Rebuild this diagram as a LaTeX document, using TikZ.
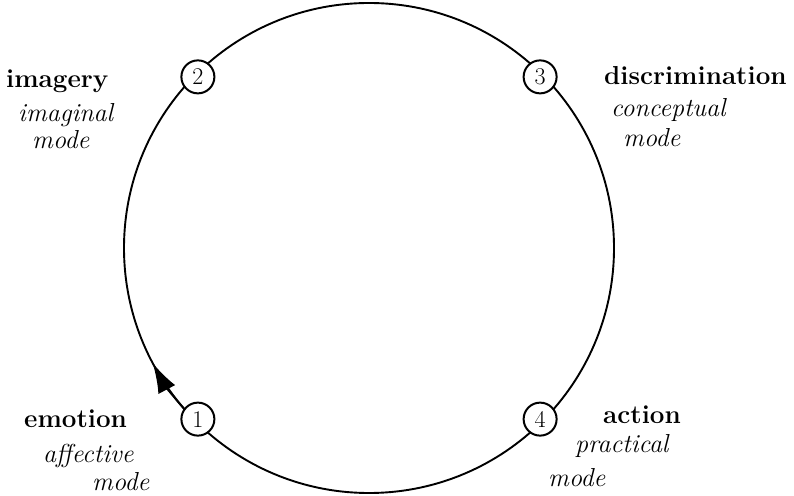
\documentclass[tikz,border=0pt]{standalone}
\usetikzlibrary{arrows.meta}

\begin{document}
\begin{tikzpicture}[x=1pt, y=1pt,
  ring/.style={line width=1.9pt},
  stage/.style={circle, draw, line width=2pt, fill=white, minimum size=33pt, inner sep=0pt, font=\fontsize{24}{26}\selectfont},
  mainword/.style={anchor=base west, inner sep=0pt, font=\fontsize{26}{30}\selectfont\bfseries},
  modeword/.style={anchor=base west, inner sep=0pt, font=\fontsize{26}{30}\selectfont\itshape}]

  \useasboundingbox (0,0) rectangle (794,495);

  % the cycle
  \coordinate (C) at (369,247);
  \draw[ring] (C) circle (245);

  % arrow leaving stage 1 upwards
  \draw[ring, -{Latex[length=30pt, width=19pt]}] ([shift={(224:245)}]C) arc (224:208:245);

  % the four stages
  \node[stage] (s1) at ([shift={(225:242)}]C) {1};
  \node[stage] (s2) at ([shift={(135:242)}]C) {2};
  \node[stage] (s3) at ([shift={(45:242)}]C) {3};
  \node[stage] (s4) at ([shift={(-45:242)}]C) {4};

  % labels
  \node[mainword] (imagery)  at (6,407)   {imagery};
  \node[modeword] (imaginal) at (18,373)  {imaginal};
  \node[modeword] (mode2)    at (32,346)  {mode};

  \node[mainword] (discrim)  at (604,410) {discrimination};
  \node[modeword] (concept)  at (611,378) {conceptual};
  \node[modeword] (mode3)    at (623,348) {mode};

  \node[mainword] (emotion)  at (24,67)   {emotion};
  \node[modeword] (affect)   at (43,33)   {affective};
  \node[modeword] (mode1)    at (92,5)    {mode};

  \node[mainword] (action)   at (603,72)  {action};
  \node[modeword] (practic)  at (575,43)  {practical};
  \node[modeword] (mode4)    at (548,9)   {mode};
\end{tikzpicture}
\end{document}
